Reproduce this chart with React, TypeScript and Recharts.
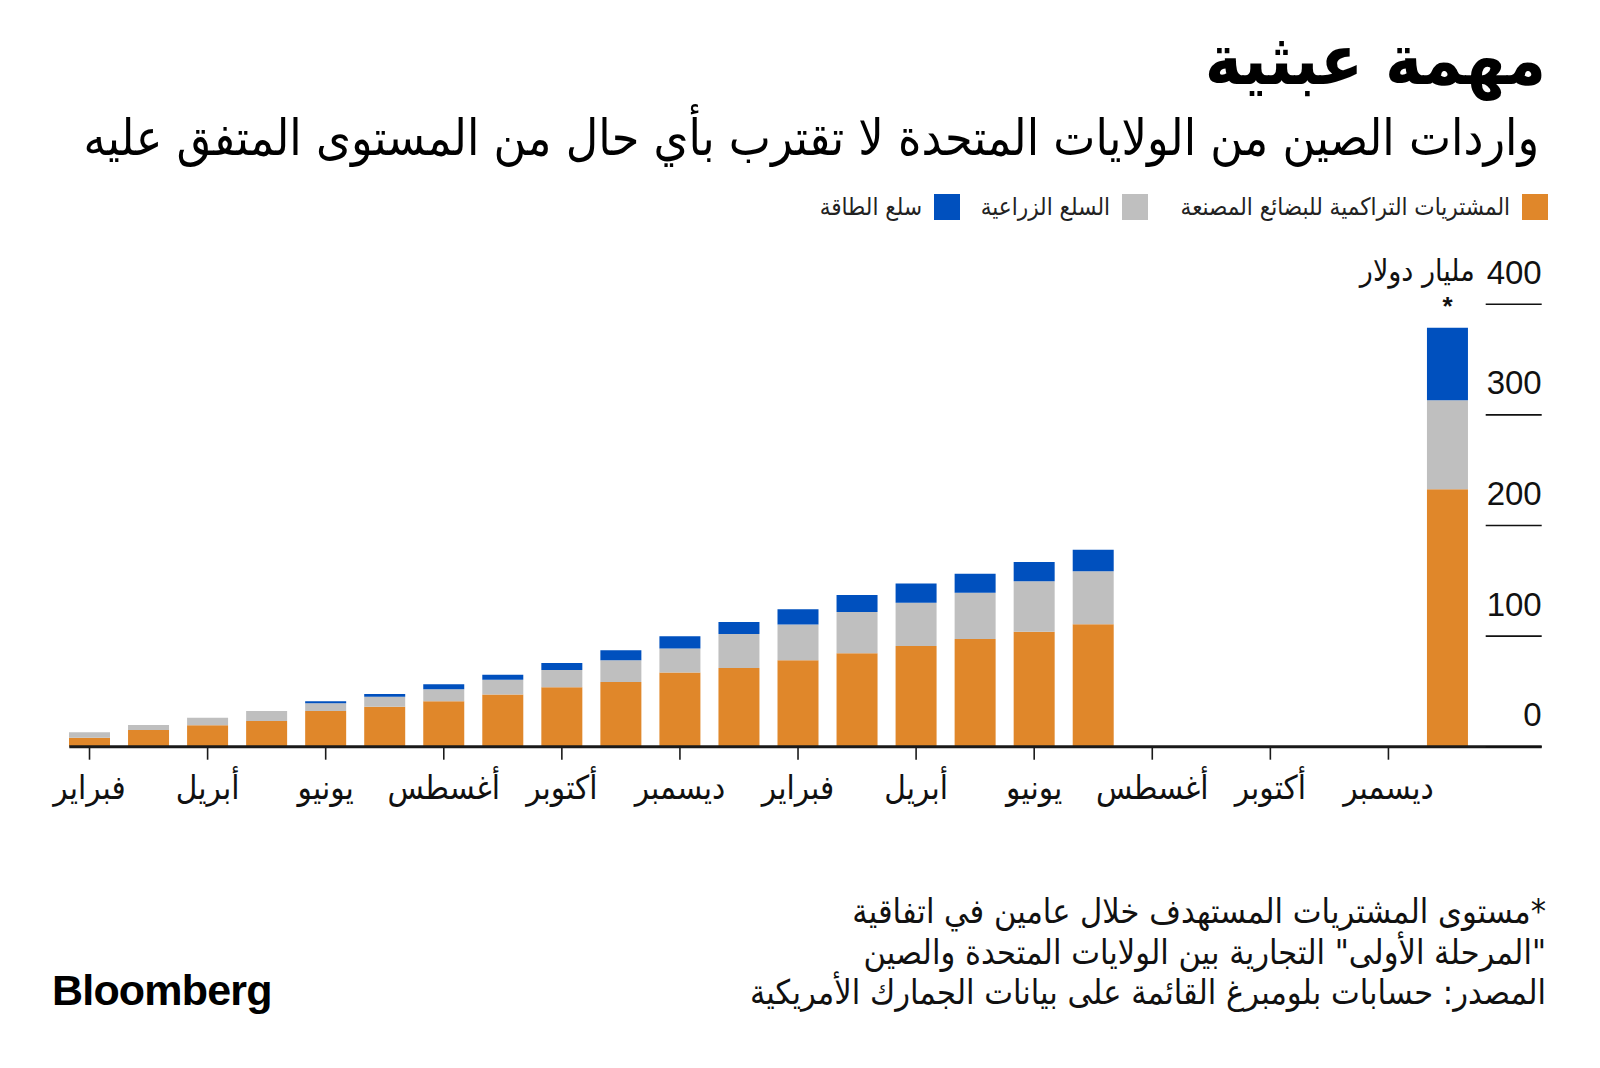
import React from 'react';
import { BarChart, Bar, XAxis, YAxis, LabelList } from 'recharts';

const monthKeys = [
  '2020-02', '2020-03', '2020-04', '2020-05', '2020-06', '2020-07', '2020-08', '2020-09',
  '2020-10', '2020-11', '2020-12', '2021-01', '2021-02', '2021-03', '2021-04', '2021-05',
  '2021-06', '2021-07', '2021-08', '2021-09', '2021-10', '2021-11', '2021-12', '2022-01',
];
const monthNames = ['يناير', 'فبراير', 'مارس', 'أبريل', 'مايو', 'يونيو', 'يوليو', 'أغسطس', 'سبتمبر', 'أكتوبر', 'نوفمبر', 'ديسمبر'];

const manufactured = [8.1, 15.1, 19.3, 23.2, 32.3, 36.1, 41.0, 47.3, 53.7, 58.5, 67.2, 71.1, 78.1, 84.4, 91.0, 97.3, 103.9, 110.8, null, null, null, null, null, 232.8];
const agricultural = [4.9, 4.5, 6.9, 9.1, 6.9, 9.1, 10.9, 13.2, 15.6, 19.6, 21.7, 30.7, 32.5, 37.3, 39.1, 41.8, 45.8, 47.9, null, null, null, null, null, 80.4];
const energy = [0, 0, 0, 0, 1.8, 2.4, 4.5, 4.6, 6.3, 9.0, 10.9, 10.9, 13.6, 15.4, 17.5, 17.2, 17.4, 19.3, null, null, null, null, null, 65.6];
const notes = ['', '', '', '', '', '', '', '', '', '', '', '', '', '', '', '', '', '', '', '', '', '', '', '*'];

const yTicks = [0, 100, 200, 300, 400];

const seriesNames = ['المشتريات التراكمية للبضائع المصنعة', 'السلع الزراعية', 'سلع الطاقة'];
const colors = ['#E0872A', '#BFBFBF', '#0050BE'];

const title = 'مهمة عبثية';
const subtitle = 'واردات الصين من الولايات المتحدة لا تقترب بأي حال من المستوى المتفق عليه';
const unitLabel = 'مليار دولار';
const footLines = [
  '*مستوى المشتريات المستهدف خلال عامين في اتفاقية',
  '"المرحلة الأولى" التجارية بين الولايات المتحدة والصين',
  'المصدر: حسابات بلومبرغ القائمة على بيانات الجمارك الأمريكية',
];

const data = monthKeys.map((k, i) => ({
  key: k,
  manufactured: manufactured[i],
  agricultural: agricultural[i],
  energy: energy[i],
  note: notes[i],
}));

const AR = '"DejaVu Sans Condensed", "DejaVu Sans", sans-serif';
const NUM = '"Liberation Sans", Arial, sans-serif';

const legendRight = [52, 452, 640];

const XTick = (props: any) => {
  const { x, y, payload } = props;
  const m = parseInt(String(payload.value).split('-')[1], 10);
  return (
    <text x={x} y={y + 28} textAnchor="middle" dominantBaseline="central" fontFamily={AR} fontSize={33} fill="#111">
      {monthNames[m - 1]}
    </text>
  );
};

const YTick = (props: any) => {
  const { x, y, payload } = props;
  return (
    <g>
      <line x1={x - 56} x2={x} y1={y} y2={y} stroke="#111" strokeWidth={1.6} />
      <text x={x} y={y - 32} textAnchor="end" dominantBaseline="central" fontFamily={NUM} fontSize={33} fill="#111">
        {payload.value}
      </text>
      {payload.value === 400 && (
        <text x={x - 67} y={y - 34} textAnchor="end" dominantBaseline="central" fontFamily={AR} fontSize={30} fill="#111">
          {unitLabel}
        </text>
      )}
    </g>
  );
};

export default function App() {
  return (
    <div style={{ position: 'absolute', left: 0, top: 0, width: 1600, height: 1068, background: '#fff', overflow: 'hidden' }}>
      <div dir="rtl" style={{ position: 'absolute', right: 54, top: 20, fontFamily: AR, fontWeight: 900, fontSize: 70, lineHeight: '80px', color: '#000', whiteSpace: 'nowrap' }}>
        {title}
      </div>
      <div dir="rtl" style={{ position: 'absolute', right: 61, top: 108, fontFamily: AR, fontSize: 49.7, lineHeight: '60px', color: '#000', whiteSpace: 'nowrap' }}>
        {subtitle}
      </div>
      {seriesNames.map((n, i) => (
        <div key={n} dir="rtl" style={{ position: 'absolute', right: legendRight[i], top: 192, height: 30, display: 'flex', alignItems: 'center', fontFamily: AR, fontSize: 24, color: '#222', whiteSpace: 'nowrap' }}>
          <span style={{ display: 'inline-block', width: 26, height: 26, background: colors[i], marginLeft: 12 }} />
          <span>{n}</span>
        </div>
      ))}
      <BarChart
        width={1600}
        height={1068}
        data={data}
        margin={{ top: 304.3, right: 48.3, bottom: 261.3, left: 69.3 }}
        barSize={41}
        style={{ position: 'absolute', left: 0, top: 0 }}
      >
        <XAxis
          dataKey="key"
          height={60}
          interval={1}
          padding={{ left: -9.3, right: 64.7 }}
          axisLine={{ stroke: '#1a1a1a', strokeWidth: 3 }}
          tickLine={{ stroke: '#1a1a1a', strokeWidth: 1.6 }}
          tickSize={13}
          tickMargin={0}
          tick={<XTick />}
        />
        <YAxis
          orientation="right"
          domain={[0, 400]}
          ticks={yTicks}
          width={10}
          axisLine={false}
          tickLine={false}
          tickSize={0}
          tickMargin={0}
          tick={<YTick />}
        />
        <Bar dataKey="manufactured" stackId="a" fill={colors[0]} isAnimationActive={false} />
        <Bar dataKey="agricultural" stackId="a" fill={colors[1]} isAnimationActive={false} />
        <Bar dataKey="energy" stackId="a" fill={colors[2]} isAnimationActive={false}>
          <LabelList dataKey="note" position="top" offset={13} style={{ fontFamily: NUM, fontSize: 26, fontWeight: 700, fill: '#111' }} />
        </Bar>
      </BarChart>
      {footLines.map((l, i) => (
        <div key={i} dir="rtl" style={{ position: 'absolute', right: 54, top: 891, fontFamily: AR, fontSize: 34, lineHeight: '41px', color: '#111', whiteSpace: 'nowrap', transform: `translateY(${i * 40.5}px)` }}>
          {l}
        </div>
      ))}
      <div style={{ position: 'absolute', left: 52, top: 964, fontFamily: NUM, fontWeight: 700, fontSize: 43, letterSpacing: -0.8, lineHeight: '52px', color: '#000' }}>
        Bloomberg
      </div>
    </div>
  );
}
